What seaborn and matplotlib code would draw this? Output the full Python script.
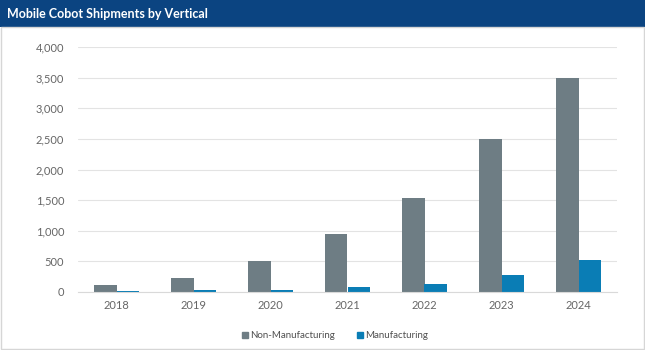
#!/usr/bin/env python3
"""Mobile cobot shipments by vertical - grouped bar chart."""
import matplotlib
matplotlib.use("Agg")
import matplotlib.pyplot as plt
from matplotlib.patches import Rectangle
from matplotlib.ticker import FuncFormatter, MultipleLocator
import pandas as pd
import seaborn as sns

years = ["2018", "2019", "2020", "2021", "2022", "2023", "2024"]
non_manufacturing = [115, 230, 500, 955, 1540, 2500, 3500]
manufacturing = [10, 25, 40, 80, 125, 270, 520]
series = ["Non-Manufacturing", "Manufacturing"]
colors = {"Non-Manufacturing": "#6e7d84", "Manufacturing": "#0a7db5"}

df = pd.DataFrame({
    "year": years * 2,
    "value": non_manufacturing + manufacturing,
    "series": [series[0]] * len(years) + [series[1]] * len(years),
})

sns.set_style("white")
plt.rcParams["font.family"] = ["Lato", "DejaVu Sans"]

fig = plt.figure(figsize=(6.45, 3.5), dpi=100)
fig.patch.set_facecolor("white")

# title banner
fig.patches.append(Rectangle((0, 1 - 27 / 350), 1, 27 / 350, transform=fig.transFigure,
                             facecolor="#0b4481", edgecolor="none", zorder=0))
fig.text(7 / 645, 1 - 14 / 350, "Mobile Cobot Shipments by Vertical", color="white",
         fontsize=9, fontweight="bold", va="center", ha="left")
# thin frame around the chart body
fig.patches.append(Rectangle((1 / 645, 1 / 350), 643 / 645, 1 - 28 / 350, transform=fig.transFigure,
                             facecolor="none", edgecolor="#d6d6d6", lw=1, zorder=0))

ax = fig.add_axes([78 / 645, 1 - 292 / 350, 539 / 645, 245 / 350])
sns.barplot(data=df, x="year", y="value", hue="series", hue_order=series, palette=colors,
            width=0.58, saturation=1, linewidth=0, ax=ax, legend=False)

ax.set_ylim(0, 4000)
ax.yaxis.set_major_locator(MultipleLocator(500))
ax.yaxis.set_major_formatter(FuncFormatter(lambda v, p: f"{int(v):,}"))
ax.grid(axis="y", color="#e3e3e3", lw=0.8)
ax.set_axisbelow(True)
for s in ["top", "right", "left"]:
    ax.spines[s].set_visible(False)
ax.spines["bottom"].set_color("#d9d9d9")
ax.tick_params(axis="both", length=0, colors="#666666", labelsize=8)
ax.tick_params(axis="y", pad=10)
ax.tick_params(axis="x", pad=6)
ax.set_xlabel("")
ax.set_ylabel("")

handles = [plt.Line2D([], [], marker="s", ls="", color=colors[s], markersize=4) for s in series]
fig.legend(handles, series, loc="center", bbox_to_anchor=(0.518, 14 / 350), ncol=2,
           frameon=False, fontsize=7, labelcolor="#505050", handletextpad=0.1,
           columnspacing=2.0, handlelength=1.0)

fig.savefig("out.png", dpi=100, facecolor="white")
